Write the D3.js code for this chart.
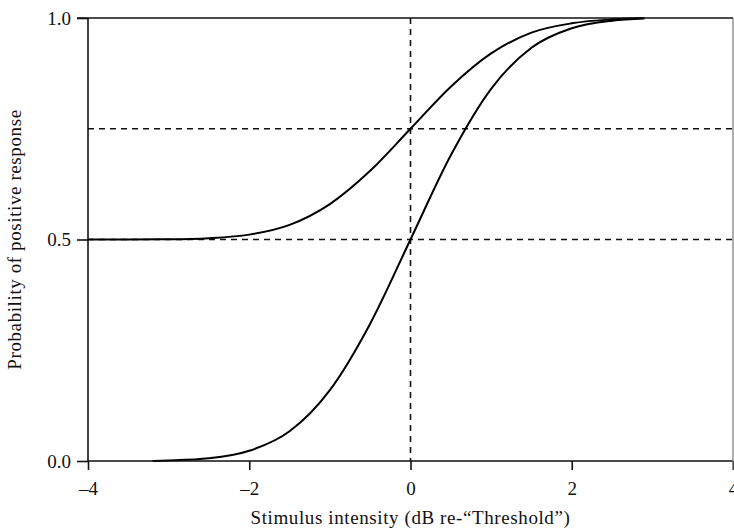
<!DOCTYPE html>
<html>
<head>
<meta charset="utf-8">
<script src="https://d3js.org/d3.v7.min.js"></script>
<style>
  body { margin: 0; background: #fff; }
  svg text { font-family: "Liberation Serif", "DejaVu Serif", serif; fill: #111; }
</style>
</head>
<body>
<svg id="chart" width="734" height="531"></svg>
<script>
// Values
const xTicks = [-4, -2, 0, 2, 4];
const yTicks = [0, 0.5, 1];

// yes/no curve (starts at 0)
const lowerX = [-3.2, -3, -2.5, -2, -1.5, -1, -0.5, 0, 0.5, 1, 1.5, 2, 2.5, 2.9];
const lowerY = [0.0, 0.001, 0.006, 0.023, 0.067, 0.16, 0.31, 0.5, 0.69, 0.84, 0.933, 0.977, 0.994, 0.999];

// forced-choice curve (starts at chance, 0.5)
const upperX = [-4, -3.5, -3, -2.5, -2, -1.5, -1, -0.5, 0, 0.5, 1, 1.5, 2, 2.5, 2.9];
const upperY = [0.5, 0.5, 0.5005, 0.503, 0.511, 0.533, 0.58, 0.655, 0.75, 0.845, 0.92, 0.967, 0.988, 0.997, 1.0];

// dashed reference lines
const hRefs = [0.5, 0.75];
const vRefs = [0];

const margin = { top: 18, right: 1, bottom: 70, left: 88 };
const width = 734, height = 531;

const svg = d3.select("#chart");

const x = d3.scaleLinear().domain([-4, 4]).range([margin.left, width - margin.right]);
const y = d3.scaleLinear().domain([0, 1]).range([height - margin.bottom, margin.top]);

// dashed guides
svg.append("g").selectAll("line.h")
    .data(hRefs)
    .enter().append("line")
    .attr("x1", x(-4)).attr("x2", x(4))
    .attr("y1", d => y(d)).attr("y2", d => y(d))
    .attr("stroke", "#111").attr("stroke-width", 1.6)
    .attr("stroke-dasharray", "6,5");

svg.append("g").selectAll("line.v")
    .data(vRefs)
    .enter().append("line")
    .attr("x1", d => x(d)).attr("x2", d => x(d))
    .attr("y1", y(1)).attr("y2", y(0))
    .attr("stroke", "#111").attr("stroke-width", 1.6)
    .attr("stroke-dasharray", "6,5");

// curves
const line = d3.line().x(d => x(d[0])).y(d => y(d[1])).curve(d3.curveMonotoneX);

svg.append("path")
    .datum(lowerX.map((v, i) => [v, lowerY[i]]))
    .attr("d", line)
    .attr("fill", "none").attr("stroke", "#000").attr("stroke-width", 2);

svg.append("path")
    .datum(upperX.map((v, i) => [v, upperY[i]]))
    .attr("d", line)
    .attr("fill", "none").attr("stroke", "#000").attr("stroke-width", 2);

// axes
const xAxis = svg.append("g")
    .attr("transform", `translate(0,${y(0)})`)
    .call(d3.axisBottom(x).tickValues(xTicks).tickSize(9).tickPadding(12)
        .tickFormat(d => d < 0 ? "\u2013" + Math.abs(d) : d));

const yAxis = svg.append("g")
    .attr("transform", `translate(${x(-4)},0)`)
    .call(d3.axisLeft(y).tickValues(yTicks).tickSize(11).tickPadding(6)
        .tickFormat(d3.format(".1f")));

[xAxis, yAxis].forEach(g => {
    g.select(".domain").attr("stroke", "#111").attr("stroke-width", 1.6);
    g.selectAll(".tick line").attr("stroke", "#111").attr("stroke-width", 1.6);
    g.selectAll(".tick text").attr("font-size", 19).attr("fill", "#111")
        .style("font-family", "'Liberation Serif', serif");
});
xAxis.select(".domain").attr("d", `M${x(-4)},0H${x(4)}`);
yAxis.select(".domain").attr("d", `M0,${y(0)}V${y(1)}`);

// frame top / right
svg.append("line")
    .attr("x1", x(-4) - 11).attr("x2", x(4))
    .attr("y1", y(1)).attr("y2", y(1))
    .attr("stroke", "#111").attr("stroke-width", 1.6);
svg.append("line")
    .attr("x1", x(4)).attr("x2", x(4))
    .attr("y1", y(1)).attr("y2", y(0) + 9)
    .attr("stroke", "#777").attr("stroke-width", 1.2);

// axis titles
svg.append("text")
    .attr("x", x(0)).attr("y", 524)
    .attr("text-anchor", "middle")
    .attr("font-size", 19)
    .attr("letter-spacing", 0.6)
    .text("Stimulus intensity (dB re-\u201CThreshold\u201D)");

svg.append("text")
    .attr("transform", `translate(21,${(y(0) + y(1)) / 2}) rotate(-90)`)
    .attr("text-anchor", "middle")
    .attr("font-size", 19)
    .attr("letter-spacing", 0.6)
    .text("Probability of positive response");
</script>
</body>
</html>
